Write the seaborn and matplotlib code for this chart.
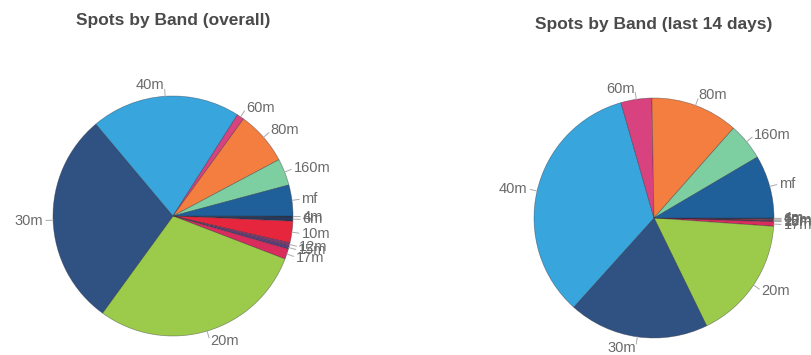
import numpy as np
import matplotlib
matplotlib.use("Agg")
import matplotlib.pyplot as plt
import seaborn as sns

# ---- data (relative shares) ----
bands = ["4m", "6m", "10m", "12m", "15m", "17m", "20m", "30m", "40m",
         "60m", "80m", "160m", "mf"]
overall = [0.5, 2.0, 10.5, 1.5, 1.5, 5.0, 105.0, 104.0, 72.5, 3.5, 26.0, 13.0, 15.0]
last14 = [0.3, 0.5, 0.5, 0.2, 0.3, 2.2, 60.0, 68.0, 122.0, 15.0, 42.5, 18.0, 30.5]
titles = ["Spots by Band (overall)", "Spots by Band (last 14 days)"]

band_colors = {
    "4m": "#2b3a55", "6m": "#263a5e", "10m": "#e5263d", "12m": "#7d3b70",
    "15m": "#5a3e78", "17m": "#d92b5c", "20m": "#9ccb4b", "30m": "#2f5282",
    "40m": "#38a5dc", "60m": "#d8437f", "80m": "#f47e3f", "160m": "#7dcfa2",
    "mf": "#20609a",
}

sns.set_theme(style="white")
plt.rcParams['font.family'] = ['Liberation Sans', 'DejaVu Sans']

W, H = 812, 355
fig = plt.figure(figsize=(W / 100, H / 100), dpi=100)
fig.patch.set_facecolor("white")

R_PX = 120.0
centers = [(173, 216), (654, 218)]
title_pos = [(173, 21), (654, 25)]
AW, AH = 380, 330


def draw(ax, values):
    cols = [band_colors[b] for b in bands]
    wedges, _ = ax.pie(values, colors=cols, startangle=0, counterclock=False,
                       radius=1.0,
                       wedgeprops=dict(linewidth=0.5, edgecolor=(0.15, 0.15, 0.2, 0.45)))
    for w, lab in zip(wedges, bands):
        mid = np.deg2rad((w.theta1 + w.theta2) / 2.0)
        c, s = np.cos(mid), np.sin(mid)
        ax.plot([1.0 * c, 1.06 * c], [1.0 * s, 1.06 * s], color="#aaaaaa", lw=0.7)
        ha = "left" if c >= 0 else "right"
        ax.text(1.08 * c, 1.09 * s, lab, ha=ha, va="center", fontsize=10.5,
                color="#6a6a6a")
    ax.set_xlim(-AW / 2 / R_PX, AW / 2 / R_PX)
    ax.set_ylim(-AH / 2 / R_PX, AH / 2 / R_PX)
    ax.set_aspect("equal")
    ax.axis("off")


for (cx, cy), vals in zip(centers, [overall, last14]):
    ax = fig.add_axes([(cx - AW / 2) / W, (H - cy - AH / 2) / H, AW / W, AH / H])
    draw(ax, vals)

for (tx, ty), t in zip(title_pos, titles):
    fig.text(tx / W, 1 - ty / H, t, ha="center", va="center", fontsize=12.5,
             fontweight="bold", color="#4a4a4a")

fig.savefig("out.png", dpi=100, facecolor="white")
